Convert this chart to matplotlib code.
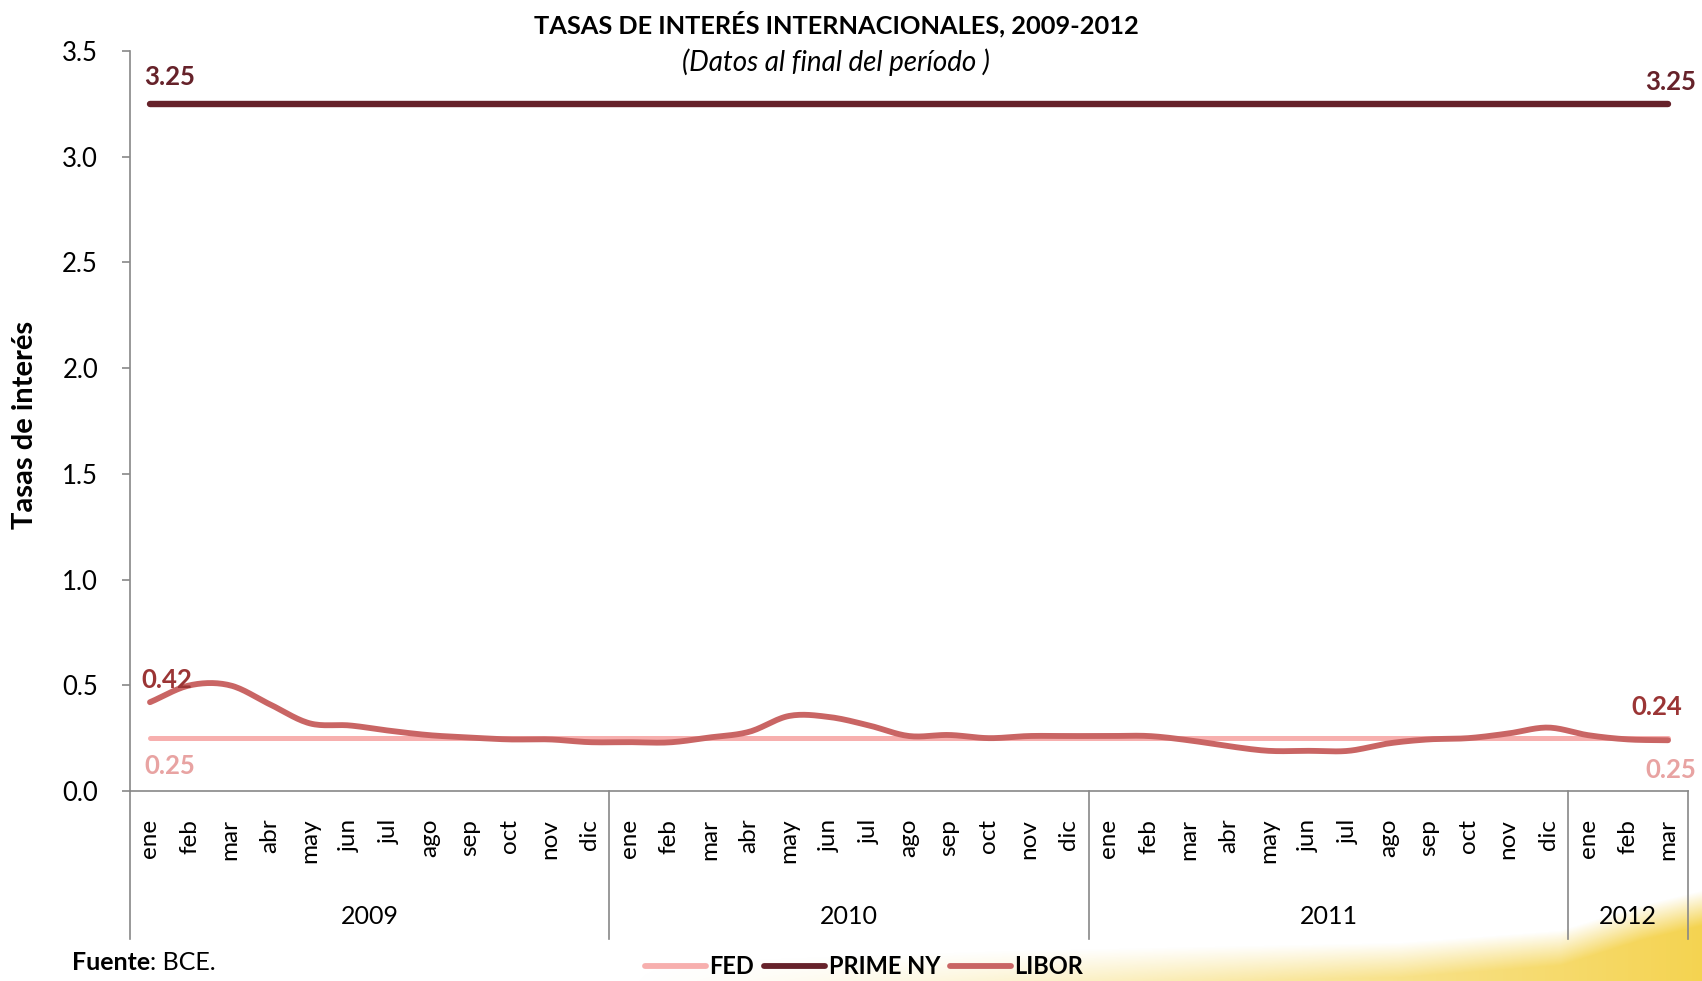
import numpy as np
import matplotlib
matplotlib.use("Agg")
import matplotlib.pyplot as plt
from matplotlib.transforms import blended_transform_factory
from matplotlib.lines import Line2D

plt.rcParams['font.family'] = ['Lato', 'DejaVu Sans']

# ---------------- data ----------------
months = (["ene", "feb", "mar", "abr", "may", "jun", "jul", "ago", "sep", "oct", "nov", "dic"] * 3
          + ["ene", "feb", "mar"])
years = ["2009", "2010", "2011", "2012"]
year_counts = [12, 12, 12, 3]

fed = [0.25] * 39
prime = [3.25] * 39
libor = [0.42, 0.50, 0.50, 0.41, 0.32, 0.31, 0.285, 0.264, 0.253, 0.244, 0.244, 0.231,
         0.231, 0.23, 0.253, 0.28, 0.355, 0.35, 0.31, 0.26, 0.265, 0.25, 0.26, 0.26,
         0.26, 0.26, 0.24, 0.212, 0.19, 0.19, 0.19, 0.225, 0.244, 0.25, 0.272, 0.30,
         0.264, 0.244, 0.24]

C_FED = "#F7AFAE"
C_PRIME = "#66222A"
C_LIBOR = "#C96564"
C_LBL_LIBOR = "#9B3535"
C_LBL_FED = "#E8A3A2"


def smooth(x, y, n=16):
    """Catmull-Rom style smoothing of the drawn path (like Excel smoothed lines)."""
    x = np.asarray(x, float)
    y = np.asarray(y, float)
    P = np.column_stack([x, y])
    P = np.vstack([P[0] - (P[1] - P[0]), P, P[-1] + (P[-1] - P[-2])])
    out = []
    t = np.linspace(0, 1, n, endpoint=False)[:, None]
    for i in range(1, len(P) - 2):
        p0, p1, p2, p3 = P[i - 1], P[i], P[i + 1], P[i + 2]
        seg = 0.5 * ((2 * p1) + (-p0 + p2) * t + (2 * p0 - 5 * p1 + 4 * p2 - p3) * t ** 2
                     + (-p0 + 3 * p1 - 3 * p2 + p3) * t ** 3)
        out.append(seg)
    out.append(P[-2][None, :])
    out = np.vstack(out)
    return out[:, 0], out[:, 1]


W, H = 1702, 981
fig = plt.figure(figsize=(W / 100, H / 100), dpi=100)
fig.patch.set_facecolor("white")

# decorative yellow swoosh background (bottom right)
bg = fig.add_axes([0, 0, 1, 1], zorder=-10)
bg.set_axis_off()
xx, yy = np.meshgrid(np.arange(W), np.arange(H))
bx = np.array([0, 600, 1000, 1400, 1560, 1640, 1702], float)
byv = np.array([1000, 962, 950, 942, 930, 905, 890], float)
boundary = np.interp(xx, bx, byv)
inten = np.clip((xx - 620) / 1080.0, 0, 1) ** 1.2
alpha = np.clip((yy - boundary) / 35.0, 0, 1) * inten * 0.95
img = np.zeros((H, W, 4))
img[..., 0] = 0.96
img[..., 1] = 0.82
img[..., 2] = 0.28
img[..., 3] = alpha
bg.imshow(img, extent=[0, W, H, 0], aspect="auto")
bg.set_xlim(0, W)
bg.set_ylim(H, 0)

left, right = 130 / W, 1688 / W
bottom, top = 1 - 791 / H, 1 - 51 / H
ax = fig.add_axes([left, bottom, right - left, top - bottom])
ax.patch.set_alpha(0)

x = np.arange(len(months))
ax.plot(*smooth(x, fed), color=C_FED, lw=3.6, solid_capstyle="round", zorder=2)
ax.plot(*smooth(x, prime), color=C_PRIME, lw=4.6, solid_capstyle="round", zorder=3)
ax.plot(*smooth(x, libor), color=C_LIBOR, lw=4.2, solid_capstyle="round", zorder=3)

ax.set_xlim(-0.5, len(months) - 0.5)
ax.set_ylim(0, 3.5)
ax.set_yticks(np.arange(0, 3.51, 0.5))
ax.set_yticklabels([f"{v:.1f}" for v in np.arange(0, 3.51, 0.5)], fontsize=18.5)
ax.set_xticks(x)
ax.set_xticklabels(months, rotation=90, fontsize=17.5, va="top", ha="center")
ax.tick_params(axis="x", length=0, pad=20)
ax.tick_params(axis="y", length=6, color="#888888", width=1.2, pad=17)
for s in ["top", "right"]:
    ax.spines[s].set_visible(False)
for s in ["left", "bottom"]:
    ax.spines[s].set_color("#888888")
    ax.spines[s].set_linewidth(1.2)

# year groups
trans = blended_transform_factory(ax.transData, ax.transAxes)
edges = np.concatenate([[0], np.cumsum(year_counts)]) - 0.5
for e in edges:
    ax.plot([e, e], [0, -0.2], transform=trans, color="#888888", lw=1.2, clip_on=False)
for i, yr in enumerate(years):
    cx = (edges[i] + edges[i + 1]) / 2
    ax.text(cx, -0.170, yr, transform=trans, ha="center", va="center", fontsize=18)

# y label (centred at x ~ 24 px)
fig.text(25 / W, 1 - 425 / H, "Tasas de interés", rotation=90, ha="center", va="center",
         fontsize=21, fontweight="bold")

# data labels
def lbl(txt, xi, yi, dx, dy, ha, color):
    ax.annotate(txt, xy=(xi, yi), xytext=(dx, dy), textcoords="offset points",
                ha=ha, va="center", fontsize=18.5, fontweight="bold", color=color)

last = len(months) - 1
lbl(f"{prime[0]:.2f}", 0, prime[0], -4, 19, "left", C_PRIME)
lbl(f"{prime[last]:.2f}", last, prime[last], 20, 16, "right", C_PRIME)
lbl(f"{libor[0]:.2f}", 0, libor[0], -6, 16, "left", C_LBL_LIBOR)
lbl(f"{fed[0]:.2f}", 0, fed[0], -4, -20, "left", C_LBL_FED)
lbl(f"{libor[last]:.2f}", last, libor[last], 10, 24, "right", C_LBL_LIBOR)
lbl(f"{fed[last]:.2f}", last, fed[last], 20, -23, "right", C_LBL_FED)

# titles
fig.text(836 / W, 1 - 24 / H, "TASAS DE INTERÉS INTERNACIONALES, 2009-2012",
         ha="center", va="center", fontsize=18.3, fontweight="bold")
fig.text(836 / W, 1 - 62 / H, "(Datos al final del período )",
         ha="center", va="center", fontsize=20, style="italic")

# source
t1 = fig.text(72 / W, 1 - 963 / H, "Fuente", ha="left", va="center", fontsize=18, fontweight="bold")
fig.canvas.draw()
bb = t1.get_window_extent()
fig.text(bb.x1 / W, 1 - 963 / H, ": BCE.", ha="left", va="center", fontsize=18)

# legend
handles = [Line2D([], [], color=C_FED, lw=4.2, solid_capstyle="round"),
           Line2D([], [], color=C_PRIME, lw=4.2, solid_capstyle="round"),
           Line2D([], [], color=C_LIBOR, lw=4.2, solid_capstyle="round")]
leg = fig.legend(handles, ["FED", "PRIME NY", "LIBOR"], loc="center",
                 bbox_to_anchor=(864 / W, 1 - 967 / H), ncol=3, frameon=False,
                 handlelength=2.6, handletextpad=0.15, columnspacing=0.4,
                 prop={"size": 17, "weight": "bold"})

fig.savefig("out.png", dpi=100, facecolor="white")
